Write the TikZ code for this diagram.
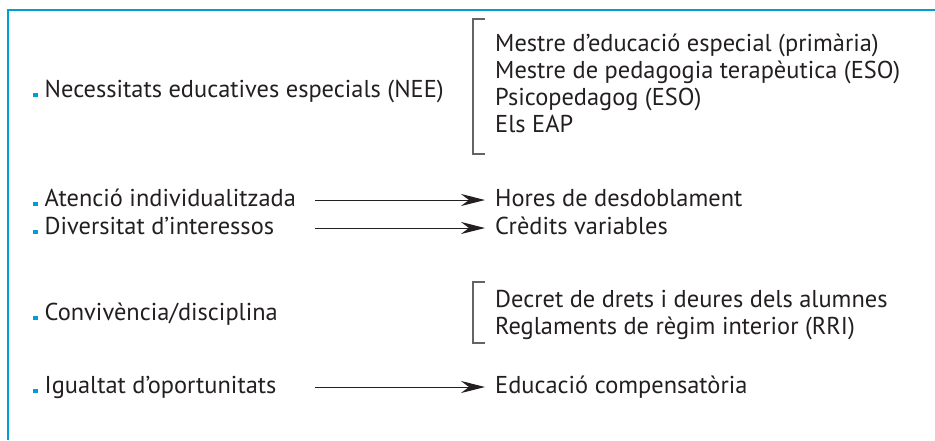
\documentclass[tikz,border=0pt]{standalone}
\usepackage{fontspec}
\setmainfont{PT Sans}
\usetikzlibrary{arrows.meta}
\definecolor{framecyan}{RGB}{0,158,214}
\definecolor{txtgray}{RGB}{35,31,32}
\definecolor{brkgray}{RGB}{100,100,100}
\newcommand{\blt}{\textcolor{framecyan}{\rule{4.5pt}{4.5pt}}\hspace{7pt}}

\begin{document}
\begin{tikzpicture}[x=1pt,y=-1pt,
		lbl/.style={anchor=base west,inner sep=0pt,text=txtgray,font=\fontsize{24.4}{29}\selectfont},
		arr/.style={line width=1pt,txtgray,shorten >=10pt,-{Stealth[length=24pt,width=12pt,inset=8pt]}},
		brk/.style={line width=1.2pt,brkgray}]
		\useasboundingbox (0,0) rectangle (935,440);
		\draw[framecyan,line width=1.5pt] (8,440) -- (8,10) -- (935,10);
		% left column
		\node[lbl] (nee) at (33,97) {\blt Necessitats educatives especials (NEE)};
		\node[lbl] (aten) at (33,206) {\blt Atenció individualitzada};
		\node[lbl] (div) at (33,234) {\blt Diversitat d'interessos};
		\node[lbl] (conv) at (33,320) {\blt Convivència/disciplina};
		\node[lbl] (igu) at (33,393) {\blt Igualtat d'oportunitats};
		% right column
		\node[lbl] (m1) at (495,51) {Mestre d'educació especial (primària)};
		\node[lbl] (m2) at (495,78) {Mestre de pedagogia terapèutica (ESO)};
		\node[lbl] (m3) at (495,105) {Psicopedagog (ESO)};
		\node[lbl] (m4) at (495,132) {Els EAP};
		\node[lbl] (hores) at (495,206) {Hores de desdoblament};
		\node[lbl] (cred) at (495,234) {Crèdits variables};
		\node[lbl] (r1) at (495,307) {Decret de drets i deures dels alumnes};
		\node[lbl] (r2) at (495,334) {Reglaments de règim interior (RRI)};
		\node[lbl] (comp) at (495,393) {Educació compensatòria};
		% brackets
		\draw[brk] ([shift={(-10pt,32pt)}]m1.base west) -- ++(-12pt,0pt) |- ([shift={(-10pt,-22pt)}]m4.base west);
		\draw[brk] ([shift={(-10pt,25pt)}]r1.base west) -- ++(-12pt,0pt) |- ([shift={(-10pt,-9pt)}]r2.base west);
		% arrows
		\coordinate (s1) at (315,200);
		\coordinate (s2) at (315,228);
		\coordinate (s3) at (315,387);
		\draw[arr] (s1) -- (s1 -| hores.west);
		\draw[arr] (s2) -- (s2 -| cred.west);
		\draw[arr] (s3) -- (s3 -| comp.west);
\end{tikzpicture}
\end{document}
